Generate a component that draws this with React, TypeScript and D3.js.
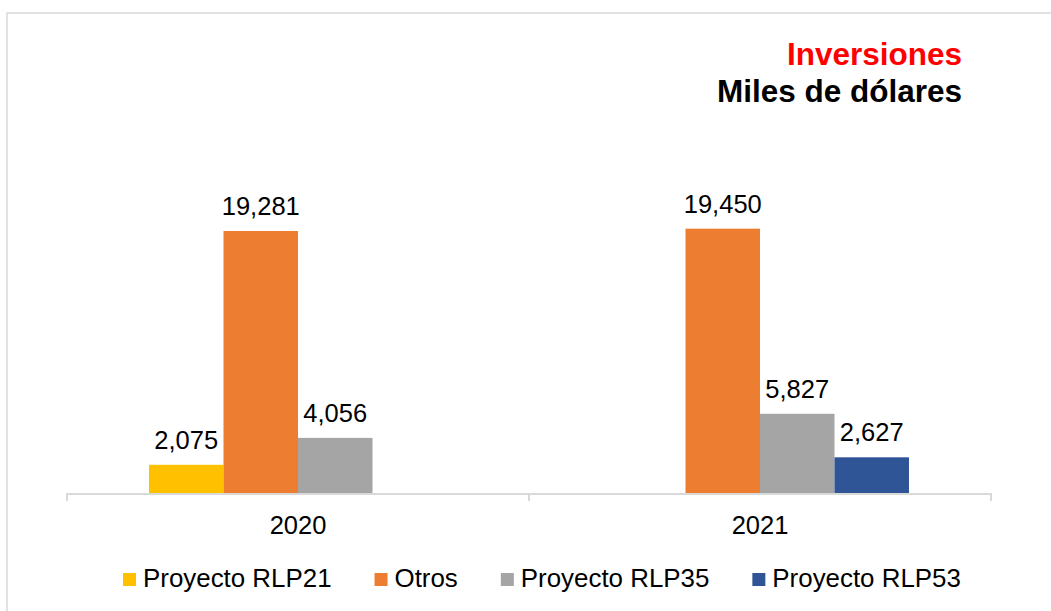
import React from "react";
import * as d3 from "d3";

const categories = ["2020", "2021"];
const seriesNames = ["Proyecto RLP21", "Otros", "Proyecto RLP35", "Proyecto RLP53"];
const seriesColors = ["#FFC000", "#ED7D31", "#A5A5A5", "#2F5597"];
const rlp21 = [2075, 0];
const otros = [19281, 19450];
const rlp35 = [4056, 5827];
const rlp53 = [0, 2627];
const seriesValues = [rlp21, otros, rlp35, rlp53];
const yMax = 25000;

const W = 1051;
const H = 611;
const FONT = "'Liberation Sans', Arial, sans-serif";

function textWidth(t: string, size: number) {
  const c = document.createElement("canvas").getContext("2d");
  if (!c) return t.length * size * 0.55;
  c.font = `${size}px ${FONT}`;
  return c.measureText(t).width;
}

export default function App() {
  const plotLeft = 67;
  const plotRight = 991;
  const baseY = 493;
  const x0 = d3.scaleBand<string>().domain(categories).range([plotLeft, plotRight]).padding(0);
  const groupW = 298;
  const x1 = d3.scaleBand<number>().domain(d3.range(seriesNames.length)).range([0, groupW]).padding(0);
  const y = d3.scaleLinear().domain([0, yMax]).range([baseY, baseY - 339.75]);
  const fmt = d3.format(",");

  const legendSize = 25.9;
  let lx = 123;
  const legendItems = seriesNames.map((n, i) => {
    const item = { x: lx, name: n, color: seriesColors[i] };
    lx += 13 + 7 + textWidth(n, legendSize) + 43;
    return item;
  });

  const tickXs = [plotLeft, ...categories.map((c) => (x0(c) as number) + x0.bandwidth())];

  return (
    <svg width={W} height={H} style={{ position: "absolute", left: 0, top: 0, background: "#fff" }} fontFamily={FONT}>
      <rect x={7} y={13} width={1200} height={800} fill="#fff" stroke="#D9D9D9" strokeWidth={1.5} />
      <text x={962} y={65} textAnchor="end" fontSize={31.5} fontWeight="bold" fill="#FF0000">Inversiones</text>
      <text x={962} y={102} textAnchor="end" fontSize={31.5} fontWeight="bold" fill="#000">Miles de dólares</text>

      {categories.map((c, ci) => {
        const gx = (x0(c) as number) + (x0.bandwidth() - groupW) / 2;
        return (
          <g key={c}>
            {seriesValues.map((vals, si) => {
              const v = vals[ci];
              if (!v) return null;
              const bx = gx + (x1(si) as number);
              return (
                <g key={si}>
                  <rect x={bx} y={y(v)} width={x1.bandwidth()} height={baseY - y(v)} fill={seriesColors[si]} />
                  <text x={bx + x1.bandwidth() / 2} y={y(v) - 16} textAnchor="middle" fontSize={25.5} fill="#000">
                    {fmt(v)}
                  </text>
                </g>
              );
            })}
            <text x={(x0(c) as number) + x0.bandwidth() / 2} y={534} textAnchor="middle" fontSize={25.5} fill="#000">
              {c}
            </text>
          </g>
        );
      })}

      <line x1={plotLeft} x2={plotRight} y1={baseY + 1} y2={baseY + 1} stroke="#D9D9D9" strokeWidth={2} />
      {tickXs.map((tx, i) => (
        <line key={i} x1={tx} x2={tx} y1={baseY} y2={baseY + 8} stroke="#D9D9D9" strokeWidth={2} />
      ))}

      {legendItems.map((it) => (
        <g key={it.name}>
          <rect x={it.x} y={573} width={13} height={13} fill={it.color} />
          <text x={it.x + 20} y={587} fontSize={legendSize} fill="#000">{it.name}</text>
        </g>
      ))}
    </svg>
  );
}
